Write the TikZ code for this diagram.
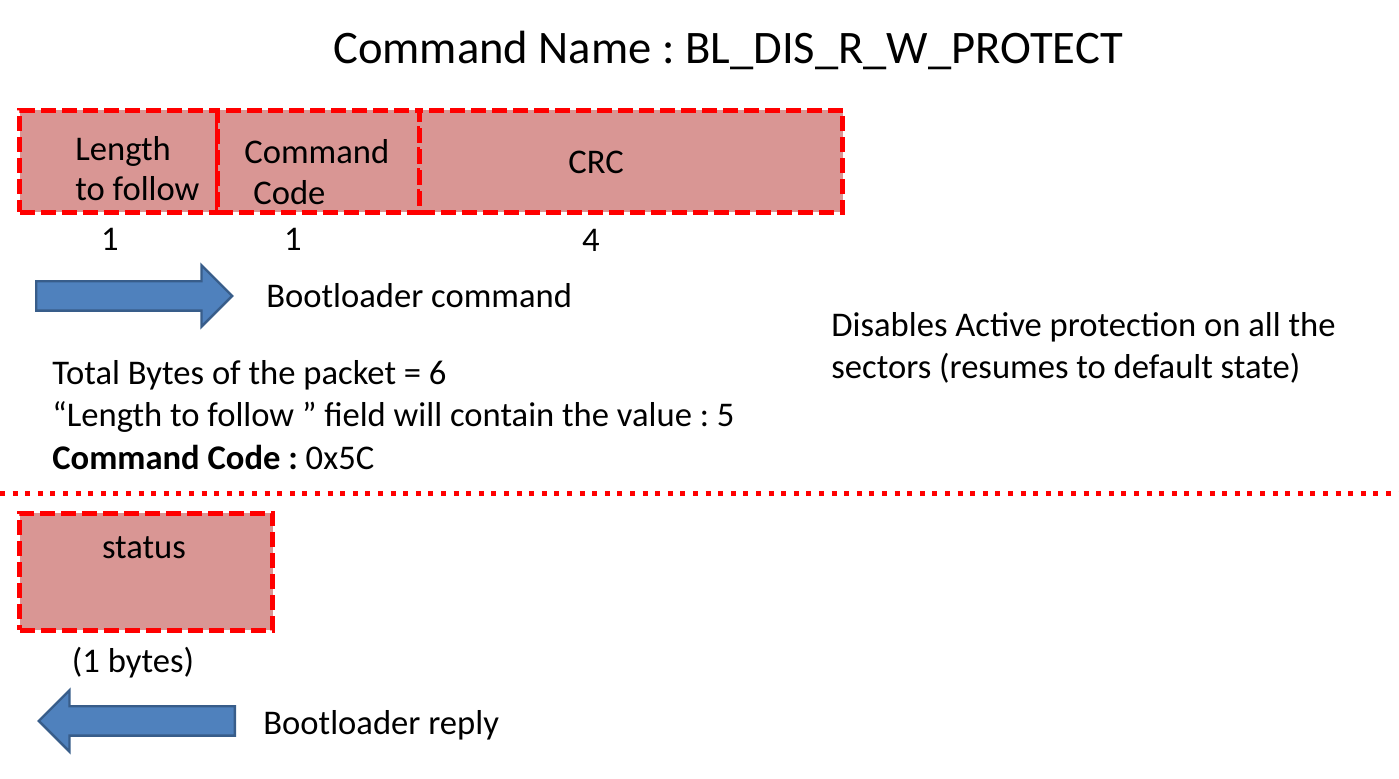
\documentclass[tikz,border=0pt]{standalone}
\usepackage{fontspec}
\setmainfont{Carlito}
\usetikzlibrary{positioning, shapes.arrows}

\definecolor{fieldpink}{HTML}{D99694}
\definecolor{arrowblue}{HTML}{4F81BD}
\definecolor{arrowedge}{HTML}{385D8A}

\frenchspacing

\begin{document}
\begin{tikzpicture}[
    x=0.5pt, y=-0.5pt,
    field/.style={rectangle, draw=red, fill=fieldpink, line width=2.5pt, dash pattern=on 7.5pt off 3pt, anchor=north west, inner sep=0pt, minimum height=51pt},
    txt/.style={font=\fontsize{17.3}{21}\selectfont, inner sep=0pt},
    title/.style={font=\fontsize{23.3}{28}\selectfont, inner sep=0pt},
    blockarrow/.style={single arrow, draw=arrowedge, fill=arrowblue, line width=1.2pt, inner xsep=0pt, inner ysep=6.75pt, minimum height=98pt, single arrow head extend=8pt},
    separator/.style={red, line width=2.5pt, dash pattern=on 2.5pt off 3.8pt}
]
\useasboundingbox (0,0) rectangle (1399,779);

% Title
\node[title, anchor=base] (title) at (728,64) {Command Name : BL\_DIS\_R\_W\_PROTECT};

% Command packet fields
\foreach \name/\x/\w in {len/17/99, cmd/215/101, crc/417/211.5} {
    \node[field, minimum width=\w pt] (\name) at (\x,108) {};
}
\node[txt, anchor=base west] (lenA) at (75,161) {Length};
\node[txt, anchor=base west] (lenB) at (75,201) {to follow};
\node[txt, anchor=base west] (cmdA) at (244,164) {Command};
\node[txt, anchor=base west] (cmdB) at (253,205) {Code};
\node[txt, anchor=base] (crcA) at (596,174) {CRC};

% Field sizes
\node[txt, anchor=base] (lenSize) at (110,251) {1};
\node[txt, anchor=base] (cmdSize) at (293,251) {1};
\node[txt, anchor=base] (crcSize) at (591,252) {4};

% Direction of the command
\node[blockarrow, anchor=tail] (cmdArrow) at (35,296) {};
\node[txt, right=16pt of cmdArrow.tip] (cmdLabel) {Bootloader command};

% Description
\node[txt, anchor=base west] (descA) at (831,337) {Disables Active protection on all the};
\node[txt, anchor=base west] (descB) at (831,379) {sectors (resumes to default state)};

% Packet notes
\node[txt, anchor=base west] (noteA) at (52,385) {Total Bytes of the packet = 6};
\node[txt, anchor=base west] (noteB) at (52,427) {“Length to follow ” field will contain the value : 5};
\node[txt, anchor=base west] (noteC) at (52,470) {\textbf{Command Code :} 0x5C};

% Separator
\coordinate (sepL) at (0,494);
\coordinate (sepR) at (1399,494);
\draw[separator] (sepL) -- (sepR);

% Reply
\node[field, minimum width=126.5pt, minimum height=58.5pt] (status) at (17,511) {};
\node[txt, anchor=base] (statusTxt) at (144,559) {status};
\node[txt, anchor=base] (statusSize) at (133,673) {(1 bytes)};
\node[blockarrow, shape border rotate=180, anchor=tail] (replyArrow) at (236,721) {};
\node[txt, right=13.5pt of replyArrow.tail, yshift=-2pt] (replyLabel) {Bootloader reply};

\end{tikzpicture}
\end{document}
